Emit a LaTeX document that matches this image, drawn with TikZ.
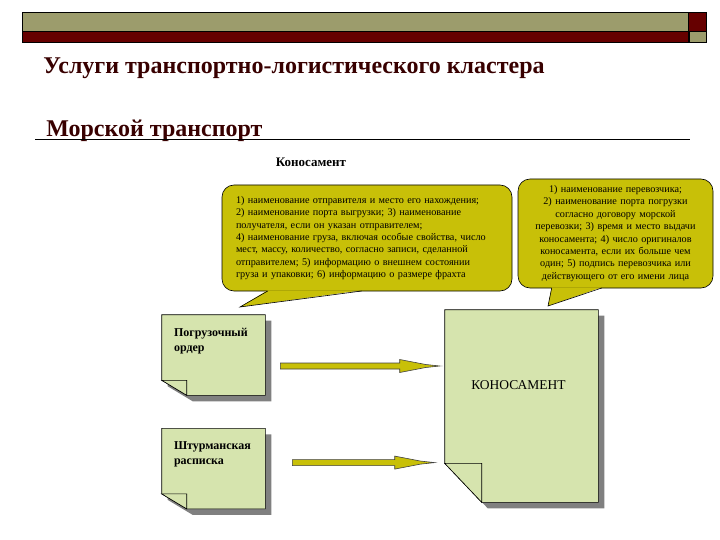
\documentclass[tikz,border=0pt]{standalone}
\usepackage{fontspec}
\setmainfont{Liberation Serif}
\usepackage{tikz}
\usetikzlibrary{positioning,calc}
\definecolor{barolive}{RGB}{156,156,108}
\definecolor{barmaroon}{RGB}{102,0,0}
\definecolor{titlered}{RGB}{56,0,0}
\definecolor{bubblefill}{RGB}{200,192,8}
\definecolor{pagefill}{RGB}{214,228,174}
\definecolor{pageshadow}{RGB}{128,128,128}
\tikzset{%
	headtext/.style={anchor=base west, inner sep=0pt, text=titlered, font=\fontsize{24}{28}\selectfont\bfseries},
	bubble/.style={draw=black, fill=bubblefill, rounded corners=12pt, font=\fontsize{10.2}{12.4}\selectfont},
	page/.style={inner sep=0pt},
	pagetext/.style={inner sep=0pt, align=left, font=\fontsize{12}{15}\selectfont\bfseries},
	blockarr/.style={draw=black!75, fill=bubblefill,
		to path={let \p1=(\tikztostart), \p2=(\tikztotarget) in
			(\x1,\y1+3pt) -- (\x2-40pt,\y1+3pt) -- (\x2-40pt,\y1+6.5pt) -- (\x2-14pt,\y1+1.5pt) -- (\x2,\y1)
			-- (\x2-14pt,\y1-1.5pt) -- (\x2-40pt,\y1-6.5pt) -- (\x2-40pt,\y1-3pt) -- (\x1,\y1-3pt) -- cycle}}
}
% sheet with shadow and turned-down corner: node, fold width, fold height
\newcommand{\sheet}[3]{%
	\fill[pageshadow] ($(#1.north west)+(6,6)$) -- ($(#1.north east)+(6,6)$) -- ($(#1.south east)+(6,6)$)
		-- ($(#1.south west)+(#2+6,6)$) -- ($(#1.south west)+(6,6-#3)$) -- cycle;
	\draw[fill=pagefill] (#1.north west) -- (#1.north east) -- (#1.south east)
		-- ($(#1.south west)+(#2,0)$) -- ($(#1.south west)+(0,-#3)$) -- cycle;
	\draw[fill=pagefill] ($(#1.south west)+(0,-#3)$) -- ($(#1.south west)+(#2,-#3)$) -- ($(#1.south west)+(#2,0)$) -- cycle;
}

\begin{document}
\begin{tikzpicture}[x=1pt, y=-1pt, line width=0.6pt]
	\useasboundingbox (0,0) rectangle (720,540);

	% header bar
	\draw[fill=barolive] (22,12) rectangle (688,31);
	\draw[fill=barmaroon] (22,31) rectangle (688,42);
	\draw[fill=barmaroon] (688,12) rectangle (706,31);
	\draw[fill=barolive] (689,31) rectangle (706,42);

	\node[headtext] (title) at (43,74) {Услуги транспортно-логистического кластера};
	\node[headtext] (sea) at (46,137) {Морской транспорт};
	\draw ($(sea.base west)+(-11,2)$) -- ++(655,0);

	\node[font=\fontsize{13}{15}\selectfont\bfseries] (konos) at (311,162) {Коносамент};

	% callouts
	\node[bubble, text width=262pt, inner xsep=14pt, inner ysep=0pt, minimum height=106pt, align=left] (leftbub) at (367,238)
		{1) наименование отправителя и место его нахождения;\\
		2) наименование порта выгрузки; 3) наименование\\
		получателя, если он указан отправителем;\\
		4) наименование груза, включая особые свойства, число\\
		мест, массу, количество, согласно записи, сделанной\\
		отправителем; 5) информацию о внешнем состоянии\\
		груза и упаковки; 6) информацию о размере фрахта};
	\node[bubble, text width=183pt, inner xsep=6pt, inner ysep=0pt, minimum height=109pt, align=center] (rightbub) at (615.5,233.5)
		{1) наименование перевозчика;\\
		2) наименование порта погрузки\\
		согласно договору морской\\
		перевозки; 3) время и место выдачи\\
		коносамента; 4) число оригиналов\\
		коносамента, если их больше чем\\
		один; 5) подпись перевозчика или\\
		действующего от его имени лица};

	\coordinate (lefttip) at (240,307);
	\coordinate (righttip) at (548,306);
	\fill[bubblefill] ($(leftbub.south west)+(46,-1)$) -- (lefttip) -- ($(leftbub.south west)+(140,-1)$) -- cycle;
	\draw ($(leftbub.south west)+(46,-0.3)$) -- (lefttip) -- ($(leftbub.south west)+(140,-0.3)$);
	\fill[bubblefill] ($(rightbub.south west)+(34,-1)$) -- (righttip) -- ($(rightbub.south west)+(84,-1)$) -- cycle;
	\draw ($(rightbub.south west)+(34,-0.3)$) -- (righttip) -- ($(rightbub.south west)+(84,-0.3)$);

	% documents
	\node[page, minimum width=103pt, minimum height=80pt] (order) at (213.5,355) {};
	\node[page, minimum width=103pt, minimum height=80pt, below=33pt of order] (receipt) {};
	\node[page, minimum width=153pt, minimum height=192pt] (bill) at (521.5,406) {};
	\sheet{order}{25}{15}
	\sheet{receipt}{25}{15}
	\sheet{bill}{37}{39}

	\node[pagetext, anchor=north west, below right=13pt and 12pt of order.north west] (ordertext) {Погрузочный\\ордер};
	\node[pagetext, anchor=north west, below right=13pt and 12pt of receipt.north west] (receipttext) {Штурманская\\расписка};
	\node[font=\fontsize{13.5}{16}\selectfont] (billtext) at ($(bill.center)+(-3,-21)$) {КОНОСАМЕНТ};

	% arrows to the bill of lading
	\coordinate (a1s) at ($(order.east)+(15,11)$);
	\coordinate (a1e) at ($(bill.west |- a1s)+(-5,0)$);
	\coordinate (a2s) at ($(receipt.east)+(27,-6)$);
	\coordinate (a2e) at ($(bill.west |- a2s)+(-10,0)$);
	\path[blockarr] (a1s) to (a1e);
	\path[blockarr] (a2s) to (a2e);
\end{tikzpicture}
\end{document}
